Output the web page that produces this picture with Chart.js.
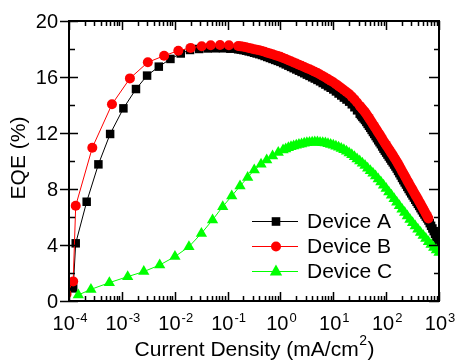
<!DOCTYPE html>
<html>
<head>
<meta charset="utf-8">
<script src="https://cdn.jsdelivr.net/npm/chart.js@4.4.0/dist/chart.umd.min.js"></script>
<style>
body{margin:0;background:#fff}
#wrap{width:456px;height:362px}
</style>
</head>
<body>
<div id="wrap"><canvas id="eqe" width="456" height="362"></canvas></div>
<script>
// EQE vs current density
// x: current density (mA/cm2), y: EQE (%)

const jA=[1.2e-4,1.34e-4,2.16e-4,3.6e-4,6.0e-4,1.07e-3,1.85e-3,3.0e-3,5.0e-3,8.3e-3,0.013,0.0195,0.029,0.042,0.059,0.082,0.113,
0.1585,0.1778,0.1995,0.2239,0.2512,0.2818,0.3162,0.3548,0.3981,0.4467,0.5012,0.5623,0.631,0.7079,0.7943,0.8913,1,
1.122,1.259,1.413,1.585,1.778,1.995,2.239,2.512,2.818,3.162,3.548,3.981,4.467,5.012,5.623,6.31,7.079,7.943,8.913,10,
11.22,12.59,14.13,15.85,17.78,19.95,22.39,25.12,28.18,31.62,
33.5,35.48,37.58,39.81,42.17,44.67,47.32,50.12,53.09,56.23,59.57,63.1,66.83,70.79,74.99,79.43,84.14,89.13,94.41,100,
105.9,112.2,118.9,125.9,133.4,141.3,149.6,158.5,167.9,177.8,188.4,199.5,211.3,223.9,237.1,251.2,266.1,281.8,298.5,316.2,
335,354.8,375.8,398.1,421.7,446.7,473.2,501.2,530.9,562.3,595.7,631,668.3,707.9,749.9,794.3,841.4,891.3,944.1,1000]
const eqeA=[0.9,4.12,7.09,9.76,11.93,13.76,15.14,16.1,16.74,17.29,17.68,17.93,18.0,18.04,18.05,18.05,18.02,
17.98,17.96,17.92,17.88,17.83,17.79,17.73,17.68,17.63,17.57,17.5,17.43,17.36,17.29,17.22,17.15,17.08,
16.99,16.9,16.81,16.72,16.63,16.54,16.45,16.36,16.27,16.17,16.08,15.98,15.89,15.79,15.69,15.57,15.46,15.34,15.23,15.11,
14.97,14.82,14.68,14.53,14.39,14.24,14.05,13.84,13.62,13.38,
13.27,13.15,13.04,12.93,12.79,12.65,12.51,12.37,12.22,12.07,11.93,11.78,11.63,11.48,11.34,11.2,11.04,10.88,10.74,10.6,
10.46,10.32,10.18,10.03,9.9,9.75,9.61,9.46,9.29,9.13,8.97,8.79,8.63,8.47,8.32,8.15,8.0,7.84,7.69,7.54,
7.39,7.23,7.09,6.94,6.79,6.63,6.48,6.32,6.18,6.03,5.9,5.75,5.56,5.37,5.18,4.99,4.8,4.6,4.4,4.2]

const jB=[0.9e-4,1.2e-4,1.34e-4,2.76e-4,6.5e-4,1.42e-3,3.1e-3,6.3e-3,0.0117,0.020,0.0324,0.048,0.072,0.106,
0.1585,0.1778,0.1995,0.2239,0.2512,0.2818,0.3162,0.3548,0.3981,0.4467,0.5012,0.5623,0.631,0.7079,0.7943,0.8913,1,
1.122,1.259,1.413,1.585,1.778,1.995,2.239,2.512,2.818,3.162,3.548,3.981,4.467,5.012,5.623,6.31,7.079,7.943,8.913,10,
11.22,12.59,14.13,15.85,17.78,19.95,22.39,25.12,28.18,31.62,
33.5,35.48,37.58,39.81,42.17,44.67,47.32,50.12,53.09,56.23,59.57,63.1,66.83,70.79,74.99,79.43,84.14,89.13,94.41,100,
105.9,112.2,118.9,125.9,133.4,141.3,149.6,158.5,167.9,177.8,188.4,199.5,211.3,223.9,237.1,251.2,266.1,281.8,298.5,316.2,
335,354.8,375.8,398.1,421.7,446.7,473.2,501.2,530.9,562.3,595.7,631]
const eqeB=[0.5,1.4,6.8,10.95,14.05,15.9,17.05,17.52,17.88,18.08,18.2,18.27,18.29,18.27,
18.21,18.19,18.16,18.12,18.08,18.04,17.99,17.95,17.91,17.86,17.8,17.74,17.68,17.62,17.56,17.5,17.44,
17.36,17.28,17.2,17.12,17.04,16.96,16.88,16.8,16.72,16.63,16.55,16.46,16.37,16.28,16.18,16.07,15.96,15.85,15.74,15.63,
15.49,15.35,15.21,15.07,14.93,14.79,14.6,14.4,14.18,13.95,
13.84,13.72,13.61,13.5,13.36,13.22,13.08,12.93,12.78,12.63,12.49,12.34,12.19,12.04,11.9,11.75,11.59,11.43,11.29,11.15,
11.0,10.86,10.71,10.56,10.42,10.27,10.12,9.97,9.8,9.64,9.47,9.29,9.12,8.95,8.78,8.6,8.44,8.27,8.1,7.94,
7.77,7.6,7.44,7.28,7.11,6.94,6.77,6.6,6.43,6.25,6.08,5.9]

const jC=[1.5e-4,2.6e-4,5.8e-4,1.29e-3,2.6e-3,5.2e-3,0.0101,0.0186,0.032,0.052,0.081,0.12,0.172,0.24,0.32,0.43,0.55,0.71,0.91,
1.122,1.259,1.413,1.585,1.778,1.995,2.239,2.512,2.818,3.162,3.548,3.981,4.467,5.012,5.623,6.31,7.079,7.943,8.913,10,
11.22,12.59,14.13,15.85,17.78,19.95,22.39,25.12,28.18,31.62,35.48,39.81,44.67,50.12,56.23,63.1,70.79,79.43,89.13,100,
112.2,125.9,141.3,158.5,177.8,199.5,223.9,251.2,281.8,316.2,354.8,398.1,446.7,501.2,562.3,631,707.9,794.3,891.3,1000]
const eqeC=[0.43,0.83,1.31,1.74,2.1,2.57,3.17,3.88,4.83,5.79,6.74,7.5,8.21,8.83,9.36,9.76,10.07,10.36,10.6,
10.78,10.86,10.94,11.01,11.07,11.13,11.18,11.22,11.26,11.3,11.32,11.34,11.35,11.35,11.33,11.31,11.28,11.23,11.18,11.12,
11.05,10.98,10.9,10.8,10.69,10.57,10.44,10.3,10.15,10.0,9.84,9.67,9.49,9.31,9.12,8.92,8.72,8.5,8.27,8.03,
7.79,7.55,7.3,7.06,6.81,6.56,6.32,6.07,5.83,5.59,5.35,5.12,4.9,4.68,4.46,4.24,4.03,3.83,3.64,3.46]

const names=["Device A","Device B","Device C"]
const colors=["#000000","#ff0000","#00ff00"]
const yTickVals=[0,4,8,12,16,20]
const xTickVals=[1e-4,1e-3,1e-2,1e-1,1,10,100,1000]
const xTickExp=["-4","-3","-2","-1","0","1","2","3"]

function pts(xs,ys){
return xs.map((x,i)=>({x:x,y:ys[i]}))
}

const FONT="'Liberation Sans', Arial, sans-serif"

function marker(c,style,x,y,color){
c.fillStyle=color
c.beginPath()
if(style=="rect"){
c.rect(x-4.3,y-4.3,8.6,8.6)
}else if(style=="circle"){
c.arc(x,y,5,0,Math.PI*2)
}else{
c.moveTo(x,y-7)
c.lineTo(x+6.2,y+4)
c.lineTo(x-6.2,y+4)
c.closePath()
}
c.fill()
}

// axes box, inward ticks, tick labels, titles and legend
const frame={
id:"frame",
afterDraw(chart){

const c=chart.ctx
const a=chart.chartArea
const sx=chart.scales.x
const sy=chart.scales.y

c.save()
c.strokeStyle="#000"
c.lineWidth=1.5

// x ticks (bottom + top)
for(let k=0;k<xTickVals.length;k++){
for(let m=1;m<10;m++){
let v=xTickVals[k]*m
if(v>1000)break
let px=Math.round(sx.getPixelForValue(v))+0.5
let len=m==1?9:5
c.beginPath()
c.moveTo(px,a.bottom);c.lineTo(px,a.bottom-len)
c.moveTo(px,a.top);c.lineTo(px,a.top+len)
c.stroke()
}
}

// y ticks (left + right)
for(let v=0;v<=20;v+=2){
let py=Math.round(sy.getPixelForValue(v))+0.5
let major=v%4==0
c.beginPath()
if(major){
c.moveTo(a.left-9,py);c.lineTo(a.left+9,py)
c.moveTo(a.right,py);c.lineTo(a.right-10,py)
}else{
c.moveTo(a.left,py);c.lineTo(a.left+6,py)
c.moveTo(a.right,py);c.lineTo(a.right-5,py)
}
c.stroke()
}

c.lineWidth=2
c.strokeRect(a.left,a.top,a.right-a.left,a.bottom-a.top)

c.fillStyle="#000"

// y tick labels
c.font="20px "+FONT
c.textAlign="right"
c.textBaseline="middle"
yTickVals.forEach(v=>{
c.fillText(String(v),a.left-11,sy.getPixelForValue(v)+1)
})

// x tick labels 10^n
c.textAlign="left"
c.textBaseline="alphabetic"
xTickVals.forEach((v,i)=>{
c.font="20px "+FONT
let wb=c.measureText("10").width
c.font="13px "+FONT
let we=c.measureText(xTickExp[i]).width
let x0=sx.getPixelForValue(v)-(wb+we+1)/2+1
c.font="20px "+FONT
c.fillText("10",x0,330)
c.font="13px "+FONT
c.fillText(xTickExp[i],x0+wb+1,322)
})

// x title with superscript
c.font="21px "+FONT
let t1="Current Density (mA/cm"
let w1=c.measureText(t1).width
let w3=c.measureText(")").width
c.font="14px "+FONT
let w2=c.measureText("2").width
let tx=(a.left+a.right)/2-(w1+w2+w3)/2
c.font="21px "+FONT
c.fillText(t1,tx,356)
c.fillText(")",tx+w1+w2+1,356)
c.font="14px "+FONT
c.fillText("2",tx+w1+0.5,345)

// y title
c.save()
c.translate(25,158)
c.rotate(-Math.PI/2)
c.font="21px "+FONT
c.textAlign="center"
c.fillText("EQE (%)",0,0)
c.restore()

// legend
const styles=["rect","circle","triangle"]
const rowY=[221,246,271]
names.forEach((n,i)=>{
let y=rowY[i]
c.strokeStyle=colors[i]
c.lineWidth=1
c.beginPath()
c.moveTo(252,y+0.5);c.lineTo(298,y+0.5)
c.stroke()
marker(c,styles[i],276,y+0.5,colors[i])
c.fillStyle="#000"
c.font="21px "+FONT
c.textAlign="left"
c.textBaseline="middle"
c.fillText(n,307,y+1)
})

c.restore()
}
}

const ctx=document.getElementById("eqe")

new Chart(ctx,{
type:"line",
data:{
datasets:[
{label:names[0],data:pts(jA,eqeA),borderColor:colors[0],backgroundColor:colors[0],borderWidth:1,
pointStyle:"rect",pointRadius:6,pointBorderWidth:0,order:3},
{label:names[1],data:pts(jB,eqeB),borderColor:colors[1],backgroundColor:colors[1],borderWidth:1,
pointStyle:"circle",pointRadius:5,pointBorderWidth:0,order:2},
{label:names[2],data:pts(jC,eqeC),borderColor:colors[2],backgroundColor:colors[2],borderWidth:1,
pointStyle:"triangle",pointRadius:6.5,pointBorderWidth:0,order:1}
]
},
options:{
responsive:false,
animation:false,
devicePixelRatio:1,
layout:{padding:{left:69,right:17,top:21,bottom:61}},
plugins:{legend:{display:false},tooltip:{enabled:false}},
scales:{
x:{type:"logarithmic",min:1e-4,max:1000,display:false},
y:{type:"linear",min:0,max:20,display:false}
}
},
plugins:[frame]
})
</script>
</body>
</html>
